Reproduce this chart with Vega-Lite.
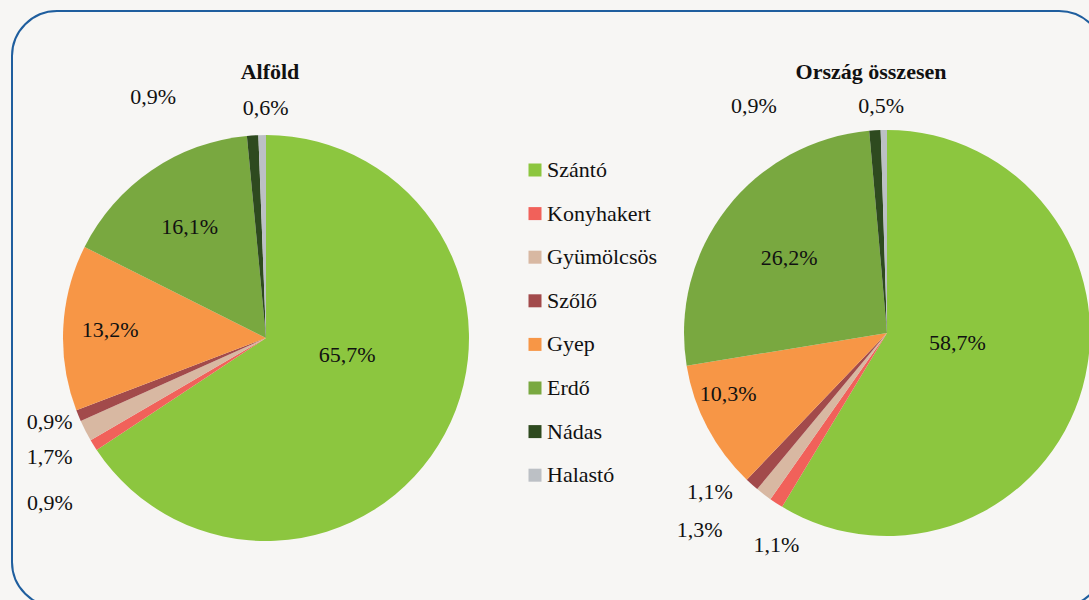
{
  "$schema": "https://vega.github.io/schema/vega-lite/v6.json",
  "autosize": "none",
  "width": 1092,
  "height": 596,
  "padding": {"left": 12, "top": 11, "right": 0, "bottom": 0},
  "background": "#f7f6f4",
  "config": {
    "view": {"stroke": "#1f5e9e", "strokeWidth": 2, "cornerRadius": 45, "fill": "#f7f6f4"},
    "locale": {"number": {"decimal": ",", "thousands": " ", "grouping": [3], "currency": ["", " Ft"]}},
    "text": {"font": "Liberation Serif", "fontSize": 22, "color": "#111111"}
  },
  "data": {
    "values": [
      {"region": "Alföld", "category": "Szántó", "i": 0, "value": 0.657},
      {"region": "Alföld", "category": "Konyhakert", "i": 1, "value": 0.009},
      {"region": "Alföld", "category": "Gyümölcsös", "i": 2, "value": 0.017},
      {"region": "Alföld", "category": "Szőlő", "i": 3, "value": 0.009},
      {"region": "Alföld", "category": "Gyep", "i": 4, "value": 0.132},
      {"region": "Alföld", "category": "Erdő", "i": 5, "value": 0.161},
      {"region": "Alföld", "category": "Nádas", "i": 6, "value": 0.009},
      {"region": "Alföld", "category": "Halastó", "i": 7, "value": 0.006},
      {"region": "Ország összesen", "category": "Szántó", "i": 0, "value": 0.587},
      {"region": "Ország összesen", "category": "Konyhakert", "i": 1, "value": 0.011},
      {"region": "Ország összesen", "category": "Gyümölcsös", "i": 2, "value": 0.013},
      {"region": "Ország összesen", "category": "Szőlő", "i": 3, "value": 0.011},
      {"region": "Ország összesen", "category": "Gyep", "i": 4, "value": 0.103},
      {"region": "Ország összesen", "category": "Erdő", "i": 5, "value": 0.262},
      {"region": "Ország összesen", "category": "Nádas", "i": 6, "value": 0.009},
      {"region": "Ország összesen", "category": "Halastó", "i": 7, "value": 0.005}
    ]
  },
  "transform": [
    {"stack": "value", "groupby": ["region"], "sort": [{"field": "i", "order": "ascending"}], "offset": "normalize", "as": ["v0", "v1"]}
  ],
  "encoding": {
    "x": {"field": "region", "type": "nominal", "axis": null,
          "scale": {"type": "point", "domain": ["Alföld", "Ország összesen"], "range": [254, 875], "padding": 0}},
    "y": {"field": "region", "type": "nominal", "axis": null,
          "scale": {"type": "point", "domain": ["Alföld", "Ország összesen"], "range": [327, 322], "padding": 0}}
  },
  "layer": [
    {
      "mark": {"type": "arc", "radius": 203, "strokeWidth": 0},
      "encoding": {
        "theta": {"field": "v0", "type": "quantitative", "scale": {"domain": [0, 1]}},
        "theta2": {"field": "v1"},
        "color": {
          "field": "category", "type": "nominal",
          "scale": {
            "domain": ["Szántó", "Konyhakert", "Gyümölcsös", "Szőlő", "Gyep", "Erdő", "Nádas", "Halastó"],
            "range": ["#8cc63f", "#f1615a", "#d8b8a2", "#a24a4b", "#f79646", "#79a840", "#2e4a1f", "#bcc0c5"]
          },
          "legend": {
            "title": null, "orient": "none", "legendX": 512, "legendY": 148,
            "symbolType": "square", "symbolSize": 169, "symbolStrokeWidth": 0,
            "labelFont": "Liberation Serif", "labelFontSize": 22, "labelColor": "#111111",
            "labelOffset": 1, "rowPadding": 21.6
          }
        }
      }
    },
    {
      "mark": {
        "type": "text", "align": "center", "baseline": "middle",
        "radius": {"expr": "(datum.region == 'Alföld' ? [83, 272, 247, 232, 156, 135, 266, 230] : [71, 239, 272, 238, 170, 123, 263, 227])[datum.i]"},
        "thetaOffset": {"expr": "(datum.v1 - datum.v0) * PI + (datum.region == 'Alföld' ? [-16.5, -5.5, -1.7, 1.3, 0, 0, -21.3, 1] : [-7.6, -5.5, 6.1, 6.4, 6.8, -0.5, -27, -0.6])[datum.i] * PI / 180"}
      },
      "encoding": {
        "theta": {"field": "v0", "type": "quantitative", "scale": {"domain": [0, 1]}},
        "text": {"field": "value", "type": "quantitative", "format": ".1%"}
      }
    },
    {
      "data": {"values": [{"region": "Alföld"}, {"region": "Ország összesen"}]},
      "transform": [],
      "mark": {
        "type": "text", "align": "center", "baseline": "middle", "fontWeight": "bold",
        "dx": {"expr": "datum.region == 'Alföld' ? 4 : -16"},
        "dy": {"expr": "datum.region == 'Alföld' ? -266 : -261"}
      },
      "encoding": {
        "text": {"field": "region", "type": "nominal"}
      }
    }
  ]
}
